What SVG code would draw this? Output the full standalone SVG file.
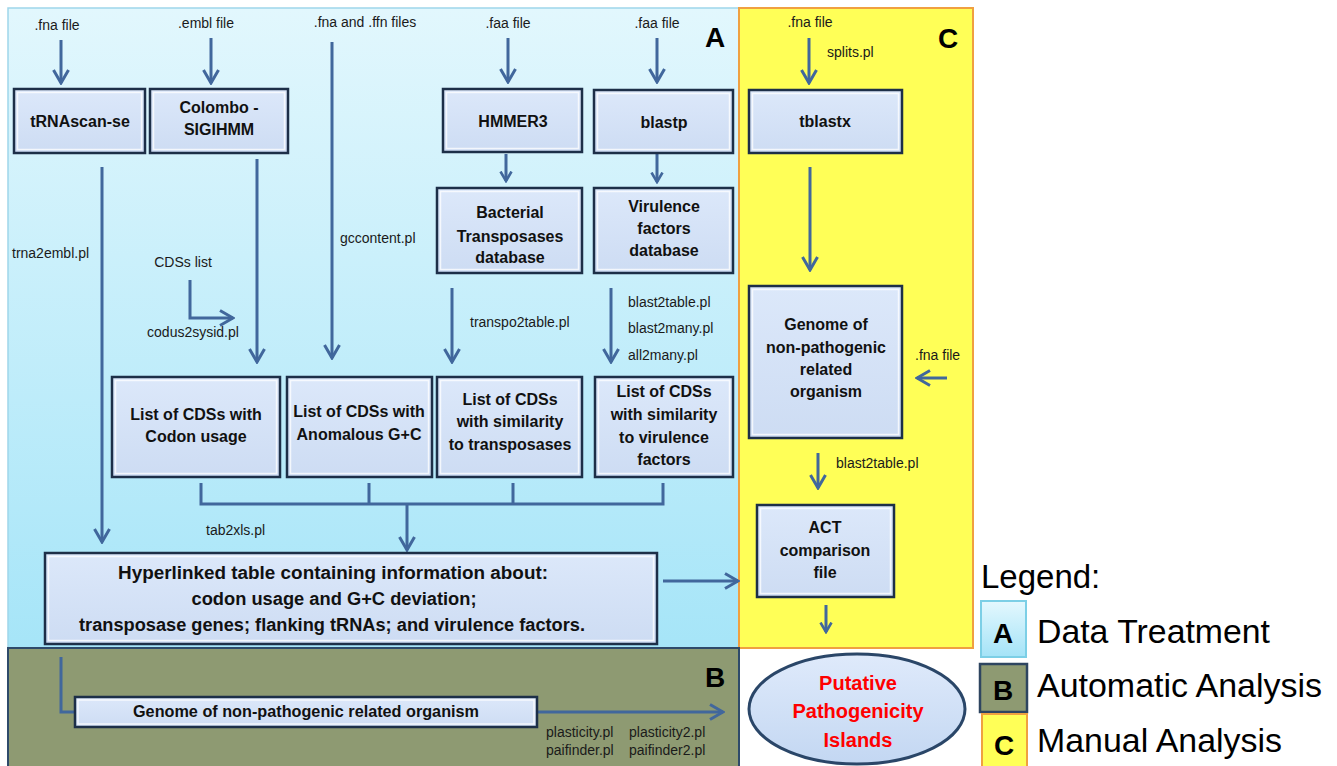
<svg xmlns="http://www.w3.org/2000/svg" width="1337" height="766" viewBox="0 0 1337 766">
<defs>
<linearGradient id="gA" x1="0" y1="0" x2="0" y2="1"><stop offset="0" stop-color="#e2f7fd"/><stop offset="1" stop-color="#a6e5f8"/></linearGradient>
<linearGradient id="gN" x1="0" y1="0" x2="0" y2="1"><stop offset="0" stop-color="#dce8fa"/><stop offset="1" stop-color="#cddcf3"/></linearGradient>
<linearGradient id="gE" x1="0" y1="0" x2="0" y2="1"><stop offset="0" stop-color="#dfeafb"/><stop offset="1" stop-color="#c3d7f2"/></linearGradient>
<linearGradient id="gLA" x1="0" y1="0" x2="0" y2="1"><stop offset="0" stop-color="#e4f8fe"/><stop offset="1" stop-color="#a4e3f7"/></linearGradient>
<marker id="ar" viewBox="0 0 16 18" markerWidth="16" markerHeight="18" refX="14" refY="9" orient="auto" markerUnits="userSpaceOnUse"><path d="M1,1.5 L14,9 L1,16.5" fill="none" stroke="#41679c" stroke-width="3"/></marker>
<marker id="as" viewBox="0 0 12 14" markerWidth="12" markerHeight="14" refX="10.5" refY="7" orient="auto" markerUnits="userSpaceOnUse"><path d="M1,1.5 L10.5,7 L1,12.5" fill="none" stroke="#41679c" stroke-width="2.6"/></marker>
</defs>
<style>
.n{fill:url(#gN);stroke:#1d2f48;stroke-width:2.5}
.bev{fill:none;stroke:#ffffff;stroke-opacity:0.75;stroke-width:1.5}
.t{font-family:"Liberation Sans",Arial,sans-serif;font-weight:bold;font-size:16px;fill:#111;text-anchor:middle}
.h{font-size:18px}
.l{font-family:"Liberation Sans",Arial,sans-serif;font-size:14px;fill:#1a1a1a}
.lc{text-anchor:middle}
.c{fill:none;stroke:#41679c;stroke-width:3}
.big{font-family:"Liberation Sans",Arial,sans-serif;font-weight:bold;font-size:28px;fill:#000;text-anchor:middle}
.lg{font-family:"Liberation Sans",Arial,sans-serif;font-size:33px;fill:#000}
.red{font-family:"Liberation Sans",Arial,sans-serif;font-weight:bold;font-size:20px;fill:#ff0000;text-anchor:middle}
</style>
<rect width="1337" height="766" fill="#ffffff"/>
<g id="panelA"><rect x="8" y="8" width="731" height="640" fill="url(#gA)" stroke="#9fd6ea" stroke-width="1.5"/><text class="big" x="715" y="47">A</text></g>
<g id="panelC"><rect x="739" y="8" width="234" height="640" fill="#ffff57" stroke="#f0a040" stroke-width="2"/><text class="big" x="948" y="48">C</text></g>
<g id="panelB"><rect x="8" y="648" width="731" height="120" fill="#8e9a72" stroke="#2e4a6a" stroke-width="2"/><text class="big" x="715" y="687">B</text></g>

<g id="labels">
<text class="l lc" x="57" y="30">.fna file</text>
<text class="l lc" x="206" y="28">.embl file</text>
<text class="l lc" x="365" y="27">.fna and .ffn files</text>
<text class="l lc" x="508" y="28">.faa file</text>
<text class="l lc" x="657" y="28">.faa file</text>
<text class="l lc" x="810" y="27">.fna file</text>
<text class="l" x="827" y="57">splits.pl</text>
<text class="l" x="340" y="243">gccontent.pl</text>
<text class="l" x="12" y="258">trna2embl.pl</text>
<text class="l lc" x="183" y="267">CDSs list</text>
<text class="l lc" x="193" y="337">codus2sysid.pl</text>
<text class="l" x="470" y="327">transpo2table.pl</text>
<text class="l" x="628" y="307">blast2table.pl</text>
<text class="l" x="628" y="333">blast2many.pl</text>
<text class="l" x="628" y="360">all2many.pl</text>
<text class="l" x="915" y="360">.fna file</text>
<text class="l" x="836" y="468">blast2table.pl</text>
<text class="l" x="206" y="535">tab2xls.pl</text>
<text class="l" x="546" y="737">plasticity.pl</text>
<text class="l" x="629" y="737">plasticity2.pl</text>
<text class="l" x="546" y="755">paifinder.pl</text>
<text class="l" x="629" y="755">paifinder2.pl</text>
</g>

<g id="connectors">
<line class="c" x1="61" y1="40" x2="61" y2="83" marker-end="url(#ar)"/>
<line class="c" x1="211" y1="38" x2="211" y2="83" marker-end="url(#ar)"/>
<line class="c" x1="508" y1="38" x2="508" y2="82" marker-end="url(#ar)"/>
<line class="c" x1="657" y1="38" x2="657" y2="82" marker-end="url(#ar)"/>
<line class="c" x1="809" y1="38" x2="809" y2="83" marker-end="url(#ar)"/>
<line class="c" x1="506" y1="154" x2="506" y2="181" marker-end="url(#as)"/>
<line class="c" x1="657" y1="154" x2="657" y2="182" marker-end="url(#as)"/>
<line class="c" x1="102" y1="167" x2="102" y2="542" marker-end="url(#ar)"/>
<line class="c" x1="257" y1="159" x2="257" y2="362" marker-end="url(#ar)"/>
<line class="c" x1="332" y1="42" x2="332" y2="358" marker-end="url(#ar)"/>
<path class="c" d="M190,280 V318 H233" marker-end="url(#ar)"/>
<line class="c" x1="452" y1="288" x2="452" y2="362" marker-end="url(#ar)"/>
<line class="c" x1="611" y1="288" x2="611" y2="362" marker-end="url(#ar)"/>
<line class="c" x1="810" y1="167" x2="810" y2="270" marker-end="url(#ar)"/>
<line class="c" x1="947" y1="378" x2="917" y2="378" marker-end="url(#ar)"/>
<line class="c" x1="818" y1="453" x2="818" y2="488" marker-end="url(#ar)"/>
<line class="c" x1="826" y1="605" x2="826" y2="632" marker-end="url(#as)"/>
<path class="c" d="M201,483 V504 H663 V483 M369,483 V504 M513,483 V504"/>
<line class="c" x1="407" y1="504" x2="407" y2="550" marker-end="url(#ar)"/>
<line class="c" x1="663" y1="581" x2="738" y2="581" marker-end="url(#ar)"/>
<path class="c" d="M61,657 V712 H75"/>
<line class="c" x1="537" y1="712" x2="723" y2="712" marker-end="url(#ar)"/>
</g>

<g id="tRNAscan"><rect class="n" x="14" y="89" width="131" height="64"/><rect class="bev" x="17.5" y="92.5" width="124" height="57"/><text class="t" x="80" y="127">tRNAscan-se</text></g>
<g id="colombo"><rect class="n" x="150" y="89" width="138" height="64"/><rect class="bev" x="153.5" y="92.5" width="131" height="57"/><text class="t" x="219" y="113">Colombo -</text><text class="t" x="219" y="135">SIGIHMM</text></g>
<g id="hmmer3"><rect class="n" x="443" y="89" width="139" height="63"/><rect class="bev" x="446.5" y="92.5" width="132" height="56"/><text class="t" x="513" y="127">HMMER3</text></g>
<g id="blastp"><rect class="n" x="594" y="90" width="139" height="63"/><rect class="bev" x="597.5" y="93.5" width="132" height="56"/><text class="t" x="664" y="128">blastp</text></g>
<g id="tblastx"><rect class="n" x="749" y="90" width="153" height="63"/><rect class="bev" x="752.5" y="93.5" width="146" height="56"/><text class="t" x="825" y="127">tblastx</text></g>
<g id="transposasesDB"><rect class="n" x="437" y="188" width="145" height="85"/><rect class="bev" x="440.5" y="191.5" width="138" height="78"/><text class="t" x="510" y="218">Bacterial</text><text class="t" x="510" y="242">Transposases</text><text class="t" x="510" y="263">database</text></g>
<g id="virulenceDB"><rect class="n" x="594" y="188" width="139" height="85"/><rect class="bev" x="597.5" y="191.5" width="132" height="78"/><text class="t" x="664" y="212">Virulence</text><text class="t" x="664" y="234">factors</text><text class="t" x="664" y="256">database</text></g>
<g id="genomeC"><rect class="n" x="749" y="286" width="153" height="152"/><rect class="bev" x="752.5" y="289.5" width="146" height="145"/><text class="t" x="826" y="330">Genome of</text><text class="t" x="826" y="353">non-pathogenic</text><text class="t" x="826" y="375">related</text><text class="t" x="826" y="397">organism</text></g>
<g id="codonList"><rect class="n" x="112" y="377" width="168" height="100"/><rect class="bev" x="115.5" y="380.5" width="161" height="93"/><text class="t" x="196" y="420">List of CDSs with</text><text class="t" x="196" y="442">Codon usage</text></g>
<g id="gcList"><rect class="n" x="287" y="377" width="145" height="100"/><rect class="bev" x="290.5" y="380.5" width="138" height="93"/><text class="t" x="359" y="417">List of CDSs with</text><text class="t" x="359" y="440">Anomalous G+C</text></g>
<g id="transpoList"><rect class="n" x="437" y="377" width="145" height="100"/><rect class="bev" x="440.5" y="380.5" width="138" height="93"/><text class="t" x="510" y="405">List of CDSs</text><text class="t" x="510" y="427">with similarity</text><text class="t" x="510" y="450">to transposases</text></g>
<g id="virulenceList"><rect class="n" x="595" y="377" width="138" height="100"/><rect class="bev" x="598.5" y="380.5" width="131" height="93"/><text class="t" x="664" y="397">List of CDSs</text><text class="t" x="664" y="420">with similarity</text><text class="t" x="664" y="443">to virulence</text><text class="t" x="664" y="465">factors</text></g>
<g id="actFile"><rect class="n" x="757" y="505" width="137" height="92"/><rect class="bev" x="760.5" y="508.5" width="130" height="85"/><text class="t" x="825" y="533">ACT</text><text class="t" x="825" y="556">comparison</text><text class="t" x="825" y="578">file</text></g>
<g id="hyperTable"><rect class="n" x="45" y="553" width="612" height="91"/><rect class="bev" x="48.5" y="556.5" width="605" height="84"/><text class="t h" x="333" y="579" textLength="430" lengthAdjust="spacingAndGlyphs">Hyperlinked table containing information about:</text><text class="t h" x="334" y="605" textLength="285" lengthAdjust="spacingAndGlyphs">codon usage and G+C deviation;</text><text class="t h" x="332" y="631" textLength="506" lengthAdjust="spacingAndGlyphs">transposase genes; flanking tRNAs; and virulence factors.</text></g>
<g id="genomeB"><rect class="n" x="75" y="697" width="462" height="30"/><rect class="bev" x="78" y="700" width="456" height="24"/><text class="t" x="306" y="717" style="font-size:16px" textLength="346" lengthAdjust="spacingAndGlyphs">Genome of non-pathogenic related organism</text></g>
<g id="islands"><ellipse cx="857" cy="709" rx="108" ry="55" fill="url(#gE)" stroke="#2a4668" stroke-width="3"/><text class="red" x="858" y="690">Putative</text><text class="red" x="858" y="718">Pathogenicity</text><text class="red" x="858" y="747">Islands</text></g>

<g id="legend">
<text class="lg" x="981" y="588">Legend:</text>
<rect x="981" y="601" width="45" height="56" fill="url(#gLA)" stroke="#7ccfe6" stroke-width="2"/>
<text class="big" x="1003" y="643">A</text>
<text class="lg" x="1037" y="643" textLength="233" lengthAdjust="spacingAndGlyphs">Data Treatment</text>
<rect x="980" y="664" width="47" height="48" fill="#8e9a72" stroke="#2e4560" stroke-width="2.5"/>
<text class="big" x="1003" y="700">B</text>
<text class="lg" x="1037" y="697" textLength="285" lengthAdjust="spacingAndGlyphs">Automatic Analysis</text>
<rect x="982" y="714" width="45" height="56" fill="#ffff57" stroke="#f0a040" stroke-width="2"/>
<text class="big" x="1004" y="755">C</text>
<text class="lg" x="1037" y="752" textLength="245" lengthAdjust="spacingAndGlyphs">Manual Analysis</text>
</g>
</svg>
